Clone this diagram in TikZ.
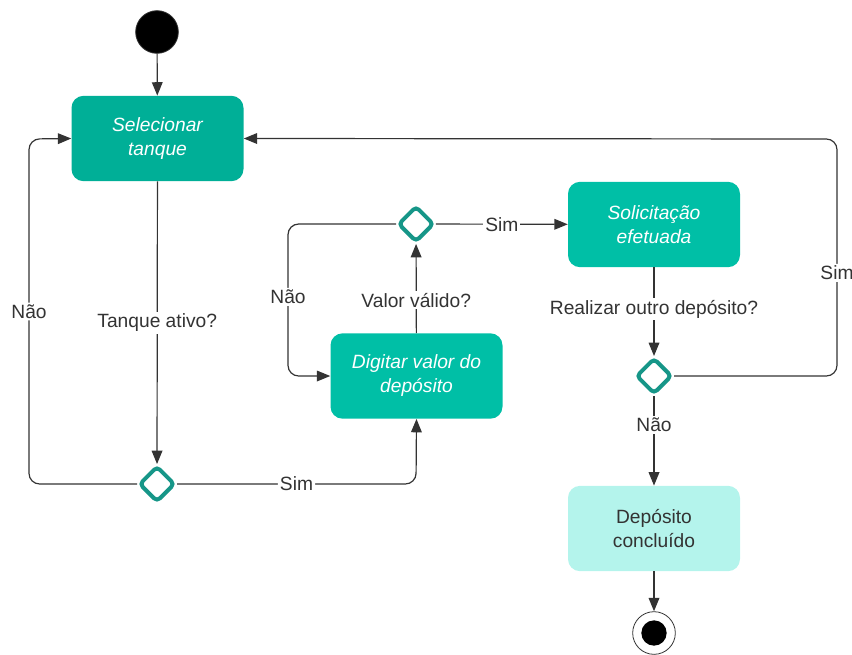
\documentclass[tikz,border=0pt]{standalone}
\usepackage{fontspec}
\setmainfont{Liberation Sans}
\usetikzlibrary{arrows.meta,positioning,shapes.geometric}

\definecolor{actdark}{RGB}{0,175,151}
\definecolor{actfill}{RGB}{0,191,166}
\definecolor{actlight}{RGB}{180,244,236}
\definecolor{decline}{RGB}{22,150,136}
\definecolor{flowgray}{RGB}{51,51,51}

\begin{document}
\begin{tikzpicture}[x=0.75pt,y=0.75pt,yscale=-1,xscale=1,
  font=\fontsize{14.4}{18}\selectfont,
  act/.style={rounded corners=9pt,minimum width=129pt,minimum height=64pt,align=center,
    text=white,font=\fontsize{14.4}{18}\selectfont\itshape},
  decision/.style={diamond,draw=decline,fill=white,line width=3pt,rounded corners=3pt,
    minimum width=27pt,minimum height=27pt,inner sep=0pt},
  flow/.style={draw=flowgray,line width=0.9pt,-{Triangle[length=10pt,width=8pt]}},
  lbl/.style={fill=white,text=flowgray,inner sep=1.5pt}]
\useasboundingbox (0,0) rectangle (852,654);

% Start
\node (start) [circle,fill=black,draw=flowgray,line width=0.6pt,minimum size=32pt,inner sep=0pt] at (157,32) {};
% Activities
\node (sel) [act,fill=actdark] at (157.5,138.5) {Selecionar\\tanque};
\node (dig) [act,fill=actfill] at (416.5,376) {Digitar valor do\\depósito};
\node (sol) [act,fill=actfill] at (654,224.5) {Solicitação\\efetuada};
\node (dep) [act,fill=actlight,text=flowgray,font=\fontsize{14.4}{18}\selectfont] at (654,528.5) {Depósito\\concluído};
% Decisions
\node (d1) [decision] at (157,484) {};
\node (d2) [decision] at (416,224) {};
\node (d3) [decision] at (654,376) {};
% End
\node (stop) [circle,draw=flowgray,fill=white,line width=0.6pt,minimum size=32pt,inner sep=0pt] at (654,633) {};
\node (stopdot) [circle,fill=black,minimum size=19pt,inner sep=0pt] at (stop) {};

% Flows
\draw [flow] (start) -- (sel);
\draw [flow] (sel) -- node[lbl] {Tanque ativo?} (d1);
\draw [flow,rounded corners=8pt] (d1.west) -- (29,484) -- node[lbl] {Não} (29,139) -- (sel.west);
\draw [flow,rounded corners=8pt] (d1.east) -- node[lbl] {Sim} (416,484) -- (dig.south);
\draw [flow] (dig) -- node[lbl,pos=0.37] {Valor válido?} (d2);
\draw [flow,rounded corners=8pt] (d2.west) -- (288,224) -- node[lbl,pos=0.48] {Não} (288,376) -- (dig.west);
\draw [flow] (d2) -- node[lbl] {Sim} (sol);
\draw [flow] (sol) -- node[lbl,pos=0.47] {Realizar outro depósito?} (d3);
\draw [flow,rounded corners=8pt] (d3.east) -- (837,376) -- node[lbl,pos=0.435] {Sim} (837,139) -- (sel.east);
\draw [flow] (d3) -- node[lbl,pos=0.32] {Não} (dep);
\draw [flow] (dep) -- (stop);

\end{tikzpicture}
\end{document}
